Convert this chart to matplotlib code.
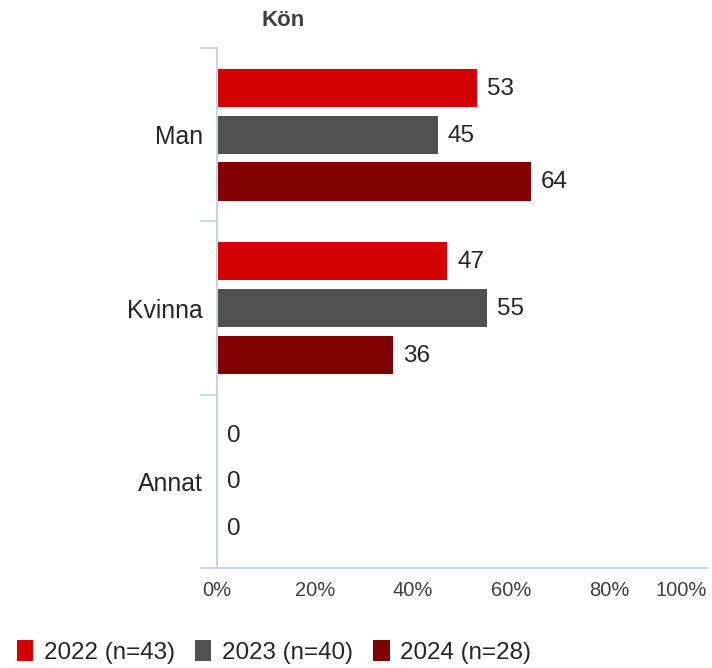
import matplotlib.pyplot as plt
import numpy as np

plt.rcParams['font.family'] = ['Liberation Sans', 'DejaVu Sans']

# Data
categories = ['Man', 'Kvinna', 'Annat']
series_names = ['2022 (n=43)', '2023 (n=40)', '2024 (n=28)']
values_2022 = [53, 47, 0]
values_2023 = [45, 55, 0]
values_2024 = [64, 36, 0]
colors = ['#d40000', '#505050', '#800000']

fig = plt.figure(figsize=(7.12, 6.68), dpi=100)
ax = fig.add_axes([217 / 712, 1 - 568 / 668, 490 / 712, 520 / 668])

y = np.arange(len(categories))
offsets = [-0.27, 0, 0.27]
bar_h = 0.22
series = [values_2022, values_2023, values_2024]

for vals, off, col, name in zip(series, offsets, colors, series_names):
    bars = ax.barh(y + off, vals, height=bar_h, color=col, label=name)
    for b, v in zip(bars, vals):
        ax.annotate(str(v), (v, b.get_y() + b.get_height() / 2),
                    xytext=(10, -1), textcoords='offset pixels',
                    va='center', ha='left', fontsize=17.5, color='#262626')

ax.set_xlim(0, 100)
ax.set_ylim(2.5, -0.5)
ax.set_xticks([0, 20, 40, 60, 80, 100])
ax.set_xticklabels(['0%', '20%', '40%', '60%', '80%', '100%'])
ax.get_xticklabels()[-1].set_horizontalalignment('right')
ax.set_yticks(y)
ax.set_yticklabels(categories)
ax.set_yticks([-0.5, 0.5, 1.5, 2.5], minor=True)
ax.tick_params(axis='y', which='major', length=0, pad=10, labelsize=17.8, labelcolor='#262626')
ax.tick_params(axis='y', which='minor', length=12, width=1.2, color='#c5d3e3')
ax.tick_params(axis='x', length=0, pad=9, labelsize=14.5, labelcolor='#404040')

for s in ['top', 'right']:
    ax.spines[s].set_visible(False)
for s in ['left', 'bottom']:
    ax.spines[s].set_color('#c5d3e3')
    ax.spines[s].set_linewidth(1.5)

fig.text(283 / 712, 1 - 20 / 668, 'Kön', ha='center', va='center',
         fontsize=16, fontweight='bold', color='#404040')

fig.legend(loc='center left', bbox_to_anchor=(0.0, 1 - 652 / 668), ncol=3, frameon=False,
           fontsize=17.4, handlelength=0.68, handleheight=0.92, handletextpad=0.42,
           columnspacing=0.85, borderaxespad=0.3, labelcolor='#262626')

plt.savefig('out.png', dpi=100)
